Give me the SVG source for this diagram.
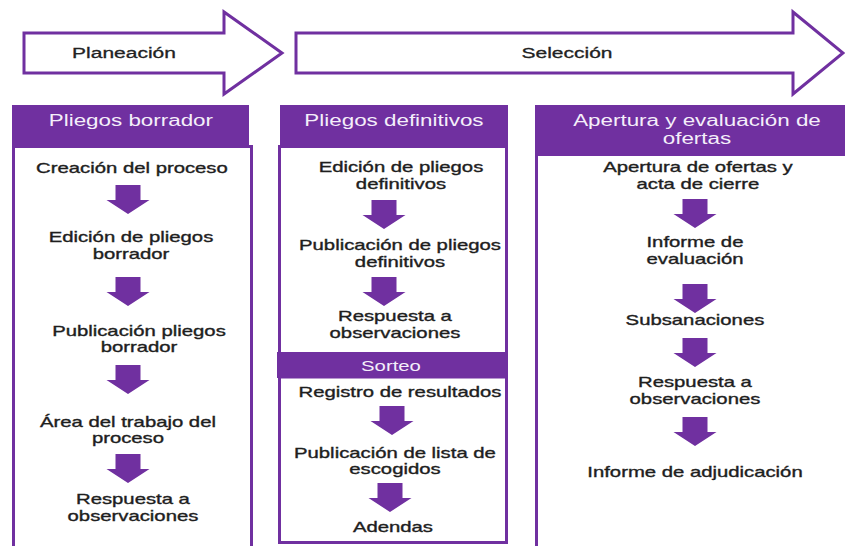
<svg xmlns="http://www.w3.org/2000/svg" xmlns:xlink="http://www.w3.org/1999/xlink" width="845" height="546" viewBox="0 0 845 546">
<style>
  .bg { fill: #ffffff; }
  .phase { fill: #ffffff; stroke: #7030a0; stroke-width: 3; stroke-linejoin: miter; }
  .hdr { fill: #7030a0; }
  .box { fill: #ffffff; stroke: #7030a0; stroke-width: 3; }
  .blk { fill: #7030a0; }
  text { font-family: "Liberation Sans", Arial, sans-serif; text-anchor: middle; transform-box: fill-box; transform-origin: center; transform: scaleX(1.4); }
  .ph { font-size: 15px; fill: #222222; stroke: #222222; stroke-width: 0.3; }
  .ht { font-size: 16px; fill: #f4eefa; }
  .st { font-size: 14.5px; fill: #1e1e1e; stroke: #1e1e1e; stroke-width: 0.35; }
  .sw { fill: #f4eefa; stroke: none; }
</style>
<defs>
  <path id="dn" d="M-12.5,0 H12.5 V15 H21.5 L0,29 L-21.5,15 H-12.5 Z"/>
</defs>
<rect class="bg" x="0" y="0" width="845" height="546"/>

<g id="phase-planeacion">
  <polygon class="phase" points="24,33 224,33 224,12 282,53 224,94 224,73 24,73"/>
  <text class="ph" x="124" y="58">Planeación</text>
</g>
<g id="phase-seleccion">
  <polygon class="phase" points="296,33 793,33 793,12 843,53 793,94 793,73 296,73"/>
  <text class="ph" x="567" y="58">Selección</text>
</g>

<g id="col-pliegos-borrador">
  <rect class="box" x="13.5" y="146.5" width="238" height="420"/>
  <rect class="hdr" x="12" y="105" width="237" height="41"/>
  <text class="ht" x="131" y="126">Pliegos borrador</text>
</g>
<g id="col-pliegos-definitivos">
  <rect class="box" x="279.5" y="146.5" width="227" height="207"/>
  <rect class="hdr" x="280" y="105" width="228" height="41"/>
  <text class="ht" x="394" y="126">Pliegos definitivos</text>
</g>
<g id="col-sorteo">
  <rect class="box" x="279.5" y="377" width="227" height="165.5"/>
  <rect class="hdr" x="277" y="352" width="231" height="26"/>
  <text class="st sw" x="391" y="371">Sorteo</text>
</g>
<g id="col-apertura">
  <rect class="box" x="536.5" y="154.5" width="320" height="400"/>
  <rect class="hdr" x="535" y="105" width="312" height="49"/>
  <text class="ht" x="697" y="126">Apertura y evaluación de</text>
  <text class="ht" x="697" y="144">ofertas</text>
</g>

<g id="connectors">
  <use href="#dn" class="blk" transform="translate(128,185)"/>
  <use href="#dn" class="blk" transform="translate(128,277)"/>
  <use href="#dn" class="blk" transform="translate(128,365)"/>
  <use href="#dn" class="blk" transform="translate(128,454)"/>
  <use href="#dn" class="blk" transform="translate(384,200)"/>
  <use href="#dn" class="blk" transform="translate(384,277)"/>
  <use href="#dn" class="blk" transform="translate(392,406)"/>
  <use href="#dn" class="blk" transform="translate(390,483)"/>
  <use href="#dn" class="blk" transform="translate(695,199)"/>
  <use href="#dn" class="blk" transform="translate(695,284)"/>
  <use href="#dn" class="blk" transform="translate(695,338)"/>
  <use href="#dn" class="blk" transform="translate(695,417)"/>
</g>

<g id="n-creacion"><text class="st" x="132" y="173">Creación del proceso</text></g>
<g id="n-edicion-borrador"><text class="st" x="131" y="242">Edición de pliegos</text><text class="st" x="131" y="259">borrador</text></g>
<g id="n-publicacion-borrador"><text class="st" x="139" y="336">Publicación pliegos</text><text class="st" x="139" y="352">borrador</text></g>
<g id="n-area-trabajo"><text class="st" x="128" y="427">Área del trabajo del</text><text class="st" x="128" y="443">proceso</text></g>
<g id="n-respuesta-1"><text class="st" x="133" y="504">Respuesta a</text><text class="st" x="133" y="521">observaciones</text></g>

<g id="n-edicion-definitivos"><text class="st" x="401" y="172">Edición de pliegos</text><text class="st" x="401" y="189">definitivos</text></g>
<g id="n-publicacion-definitivos"><text class="st" x="400" y="250">Publicación de pliegos</text><text class="st" x="400" y="267">definitivos</text></g>
<g id="n-respuesta-2"><text class="st" x="395" y="321">Respuesta a</text><text class="st" x="395" y="338">observaciones</text></g>

<g id="n-registro"><text class="st" x="400" y="397">Registro de resultados</text></g>
<g id="n-lista"><text class="st" x="395" y="458">Publicación de lista de</text><text class="st" x="395" y="474">escogidos</text></g>
<g id="n-adendas"><text class="st" x="393" y="532">Adendas</text></g>

<g id="n-apertura-ofertas"><text class="st" x="698" y="172">Apertura de ofertas y</text><text class="st" x="698" y="189">acta de cierre</text></g>
<g id="n-informe-evaluacion"><text class="st" x="695" y="247">Informe de</text><text class="st" x="695" y="264">evaluación</text></g>
<g id="n-subsanaciones"><text class="st" x="695" y="325">Subsanaciones</text></g>
<g id="n-respuesta-3"><text class="st" x="695" y="387">Respuesta a</text><text class="st" x="695" y="404">observaciones</text></g>
<g id="n-adjudicacion"><text class="st" x="695" y="477">Informe de adjudicación</text></g>
</svg>
